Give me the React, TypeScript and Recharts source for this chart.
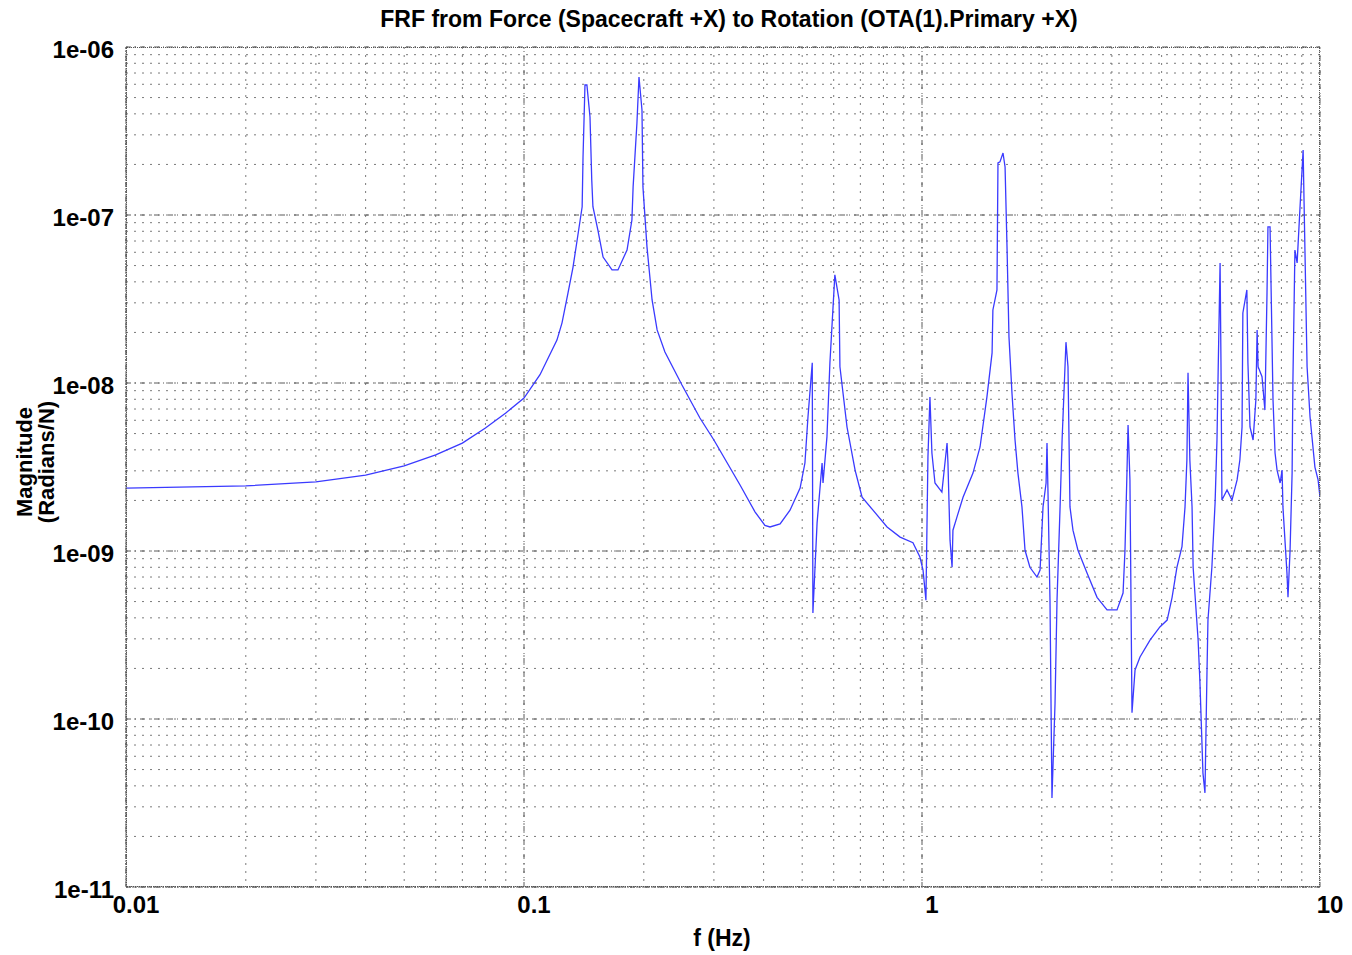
import React from 'react';
import { LineChart, Line, XAxis, YAxis, CartesianGrid, ReferenceLine } from 'recharts';

// frequency (Hz) and FRF magnitude (rad/N)
const freq = [
  0.01, 0.02, 0.03, 0.04, 0.05, 0.06, 0.07, 0.08, 0.09, 0.1,
  0.1097, 0.121, 0.1246, 0.129, 0.1328, 0.136, 0.14, 0.1407, 0.1423, 0.1439,
  0.1465, 0.148, 0.149, 0.1533, 0.158, 0.1664, 0.1722, 0.1815, 0.1867, 0.188,
  0.1922, 0.1945, 0.1979, 0.199, 0.2037, 0.2098, 0.216, 0.226, 0.2494, 0.2767,
  0.3, 0.349, 0.3805, 0.403, 0.415, 0.44, 0.466, 0.494, 0.508, 0.517,
  0.53, 0.532, 0.545, 0.561, 0.564, 0.577, 0.587, 0.604, 0.619, 0.622,
  0.648, 0.679, 0.707, 0.753, 0.817, 0.881, 0.949, 0.988, 1.006, 1.023,
  1.035, 1.047, 1.059, 1.078, 1.122, 1.142, 1.156, 1.162, 1.176, 1.19,
  1.196, 1.224, 1.268, 1.343, 1.399, 1.456, 1.5, 1.507, 1.543, 1.552,
  1.57, 1.598, 1.617, 1.636, 1.654, 1.683, 1.713, 1.742, 1.783, 1.815,
  1.867, 1.945, 1.98, 2.014, 2.05, 2.061, 2.073, 2.097, 2.121, 2.159,
  2.184, 2.223, 2.249, 2.3, 2.327, 2.354, 2.395, 2.465, 2.598, 2.753,
  2.917, 3.09, 3.2, 3.236, 3.27, 3.294, 3.33, 3.37, 3.43, 3.53,
  3.74, 3.96, 4.13, 4.25, 4.37, 4.5, 4.58, 4.63, 4.66, 4.71,
  4.77, 4.8, 4.94, 4.99, 5.08, 5.14, 5.2, 5.23, 5.35, 5.45,
  5.51, 5.55, 5.61, 5.64, 5.67, 5.84, 6.01, 6.19, 6.29, 6.37,
  6.4, 6.55, 6.59, 6.67, 6.79, 6.9, 6.95, 6.99, 7.15, 7.27,
  7.36, 7.4, 7.49, 7.62, 7.71, 7.8, 7.94, 8.03, 8.07, 8.26,
  8.31, 8.41, 8.51, 8.55, 8.65, 8.76, 8.91, 9.07, 9.12, 9.28,
  9.44, 9.6, 9.71, 9.89, 10,
];

const magnitude = [
  2.37e-9, 2.44e-9, 2.58e-9, 2.83e-9, 3.21e-9, 3.73e-9, 4.39e-9, 5.4e-9, 6.63e-9, 8.14e-9,
  1.12e-8, 1.8e-8, 2.28e-8, 3.44e-8, 4.9e-8, 7.1e-8, 1.12e-7, 2.21e-7, 5.94e-7, 5.94e-7,
  3.83e-7, 1.61e-7, 1.12e-7, 8.15e-8, 5.62e-8, 4.71e-8, 4.71e-8, 6.19e-8, 9.33e-8, 1.47e-7,
  3.53e-7, 6.63e-7, 4.22e-7, 1.47e-7, 6.46e-8, 3.12e-8, 2.07e-8, 1.53e-8, 9.73e-9, 6.19e-9,
  4.58e-9, 2.47e-9, 1.71e-9, 1.42e-9, 1.39e-9, 1.45e-9, 1.75e-9, 2.37e-9, 3.34e-9, 6.28e-9,
  1.32e-8, 4.27e-10, 1.47e-9, 3.34e-9, 2.54e-9, 4.78e-9, 1.32e-8, 4.4e-8, 3.12e-8, 1.25e-8,
  5.47e-9, 3.03e-9, 2.09e-9, 1.75e-9, 1.39e-9, 1.21e-9, 1.12e-9, 9.2e-10, 7.7e-10, 5.1e-10,
  3.63e-9, 8.26e-9, 3.83e-9, 2.54e-9, 2.24e-9, 3.34e-9, 4.39e-9, 3.34e-9, 1.16e-9, 8.0e-10,
  1.33e-9, 1.59e-9, 2.09e-9, 2.91e-9, 4.16e-9, 8.26e-9, 1.51e-8, 2.72e-8, 3.58e-8, 2.04e-7,
  2.07e-7, 2.34e-7, 1.93e-7, 6.19e-8, 1.88e-8, 8.7e-9, 4.58e-9, 2.91e-9, 1.83e-9, 1.01e-9,
  8.0e-10, 7.0e-10, 7.7e-10, 1.83e-9, 2.54e-9, 4.39e-9, 2.21e-9, 5.1e-10, 3.39e-11, 1.24e-10,
  5.1e-10, 1.83e-9, 4.58e-9, 1.75e-8, 1.25e-8, 1.83e-9, 1.33e-9, 1.01e-9, 7.4e-10, 5.3e-10,
  4.46e-10, 4.46e-10, 5.62e-10, 1.01e-9, 2.65e-9, 5.62e-9, 2.65e-9, 1.09e-10, 1.96e-10, 2.34e-10,
  2.95e-10, 3.53e-10, 3.88e-10, 5.3e-10, 8.0e-10, 1.06e-9, 1.83e-9, 3.48e-9, 1.15e-8, 3.48e-9,
  1.83e-9, 8.0e-10, 2.95e-10, 1.71e-10, 4.78e-11, 3.63e-11, 1.88e-10, 3.88e-10, 8.0e-10, 1.93e-9,
  4.58e-9, 1.25e-8, 5.18e-8, 1.25e-8, 2.01e-9, 2.31e-9, 2.01e-9, 2.65e-9, 3.48e-9, 5.47e-9,
  2.61e-8, 3.58e-8, 1.32e-8, 5.47e-9, 4.58e-9, 7.93e-9, 2.07e-8, 1.25e-8, 1.09e-8, 6.9e-9,
  3.44e-8, 8.49e-8, 8.49e-8, 7.93e-9, 3.83e-9, 3.03e-9, 2.54e-9, 3.03e-9, 1.83e-9, 7.4e-10,
  5.3e-10, 1.01e-9, 2.91e-9, 1.04e-8, 6.19e-8, 5.18e-8, 1.12e-7, 2.44e-7, 1.18e-7, 1.25e-8,
  6.28e-9, 4.16e-9, 3.16e-9, 2.65e-9, 2.09e-9,
];

const xDecades = [0.01, 0.1, 1, 10];
const xDecadeLabels = ['0.01', '0.1', '1', '10'];
const yDecades = [1e-11, 1e-10, 1e-9, 1e-8, 1e-7, 1e-6];
const yDecadeLabels = ['1e-11', '1e-10', '1e-09', '1e-08', '1e-07', '1e-06'];
const minorSteps = [1, 2, 3, 4, 5, 6, 7, 8, 9];

const data = freq.map((f, i) => ({ f, m: magnitude[i] }));

const minorTicks = (decades: number[]) => {
  const out: number[] = [];
  decades.slice(0, -1).forEach((d) => minorSteps.forEach((k) => out.push(k * d)));
  out.push(decades[decades.length - 1]);
  return out;
};
const xTicks = minorTicks(xDecades);
const yTicks = minorTicks(yDecades);

const labelFor = (decades: number[], labels: string[]) => (v: number) => {
  const i = decades.findIndex((d) => Math.abs(v / d - 1) < 1e-6);
  return i >= 0 ? labels[i] : '';
};

const font = '"Liberation Sans", Arial, sans-serif';
const tickStyle = { fontSize: 24, fontWeight: 700, fill: '#000', fontFamily: font };

const App = () => {
  return (
    <div style={{ position: 'relative', width: 1344, height: 947, background: '#fff', fontFamily: font }}>
      <div style={{ position: 'absolute', left: 124, width: 1194, top: -2, textAlign: 'center', fontSize: 23, fontWeight: 700, color: '#000' }}>
        FRF from Force (Spacecraft +X) to Rotation (OTA(1).Primary +X)
      </div>
      <div
        style={{
          position: 'absolute', left: 28 - 90, top: 457 - 25, width: 180, textAlign: 'center',
          transform: 'rotate(-90deg)', fontSize: 22, fontWeight: 700, lineHeight: '22px', color: '#000',
        }}
      >
        Magnitude<br />(Radians/N)
      </div>
      <div style={{ position: 'absolute', left: 614, width: 200, top: 917, textAlign: 'center', fontSize: 23, fontWeight: 700, color: '#000' }}>
        f (Hz)
      </div>
      <LineChart width={1344} height={947} data={data} margin={{ top: 39, right: 32, bottom: 38, left: 0 }}>
        <CartesianGrid stroke="#7a7a7a" strokeDasharray="2 6" />
        {xDecades.map((d) => (
          <ReferenceLine key={'x' + d} x={d} stroke="#5a5a5a" strokeDasharray="5 4 1 4" />
        ))}
        {yDecades.map((d) => (
          <ReferenceLine key={'y' + d} y={d} stroke="#5a5a5a" strokeDasharray="5 4 1 4" />
        ))}
        <XAxis
          dataKey="f"
          type="number"
          scale="log"
          domain={[0.01, 10]}
          allowDataOverflow
          ticks={xTicks}
          interval={0}
          tickFormatter={labelFor(xDecades, xDecadeLabels)}
          tick={{ ...tickStyle, dx: 10 }}
          tickLine={false}
          tickSize={0}
          tickMargin={9}
          height={30}
          axisLine={{ stroke: '#555', strokeDasharray: '2 1' }}
        />
        <YAxis
          type="number"
          scale="log"
          domain={[1e-11, 1e-6]}
          allowDataOverflow
          ticks={yTicks}
          interval={0}
          tickFormatter={labelFor(yDecades, yDecadeLabels)}
          tick={{ ...tickStyle, dy: 2 }}
          tickLine={false}
          tickSize={0}
          tickMargin={12}
          width={118}
          axisLine={{ stroke: '#555', strokeDasharray: '2 1' }}
        />
        <Line type="linear" dataKey="m" stroke="#3a3aff" strokeWidth={1.3} dot={false} isAnimationActive={false} />
      </LineChart>
      <div style={{ position: 'absolute', left: 118, top: 39, width: 1194, height: 840, boxSizing: 'border-box', border: '1px dotted #555', pointerEvents: 'none' }} />
    </div>
  );
};

export default App;
